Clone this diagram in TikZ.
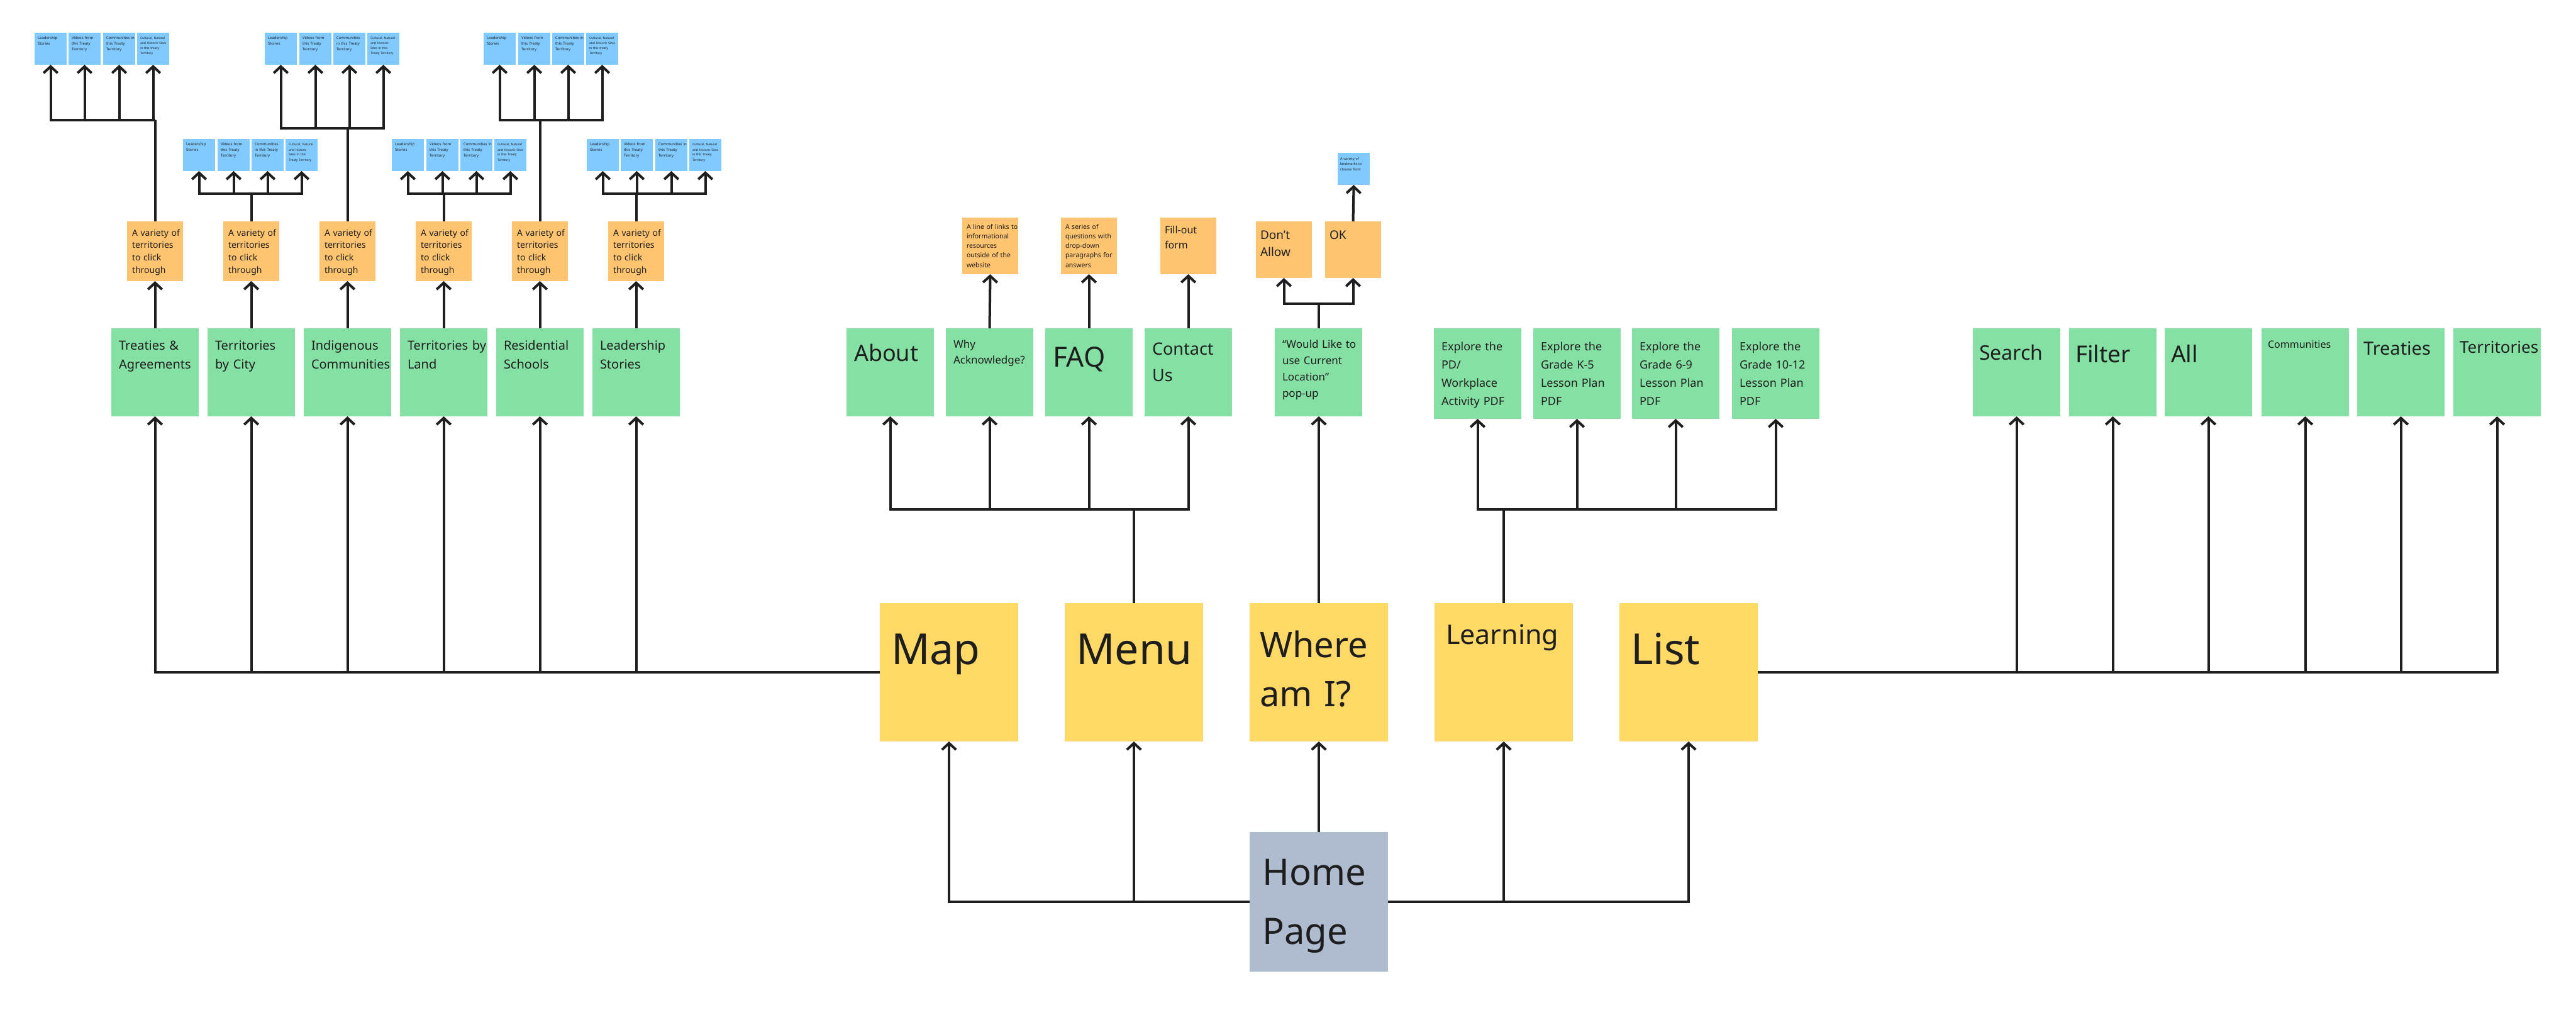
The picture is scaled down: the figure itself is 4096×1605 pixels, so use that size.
\documentclass[tikz,border=0pt]{standalone}
\usepackage{fontspec}
\setmainfont{Noto Sans}
\usetikzlibrary{arrows.meta}
\newdimen\pxu \pxu=0.25pt
\definecolor{gfill}{HTML}{85E0A3}
\definecolor{yfill}{HTML}{FFD966}
\definecolor{ofill}{HTML}{FFC470}
\definecolor{bfill}{HTML}{80CAFF}
\definecolor{hfill}{HTML}{AFBCCF}
\definecolor{ink}{HTML}{1E1E1E}
\newcommand\note[6]{\node[#1] (#2) at #3 {};\node[#4] (#2t) at ([shift={#5}]#2.north west) {#6};}
\begin{document}
\begin{tikzpicture}[x=0.25pt,y=-0.25pt,
  box/.style={inner sep=0pt, outer sep=0pt, anchor=north west, draw=none},
  gbox/.style={box, fill=gfill, minimum width=139\pxu, minimum height=140\pxu},
  lbox/.style={box, fill=gfill, minimum width=139\pxu, minimum height=144\pxu},
  obox/.style={box, fill=ofill, minimum width=89\pxu, minimum height=95\pxu},
  mbox/.style={box, fill=ofill, minimum width=89\pxu, minimum height=90\pxu},
  bbox/.style={box, fill=bfill, minimum width=51\pxu, minimum height=51\pxu},
  ybox/.style={box, fill=yfill, minimum width=220\pxu, minimum height=220\pxu},
  hbox/.style={box, fill=hfill, minimum width=220\pxu, minimum height=222\pxu},
  txt/.style={anchor=base west, inner sep=0pt, outer sep=0pt, text width=600\pxu, align=left, text=ink},
  fs/.style 2 args={txt, font=\fontsize{#1}{#2}\selectfont},
  ln/.style={draw=ink, line width=1pt},
  arr/.style={ln, -{Straight Barb[length=2.6pt,width=5.6pt]}}
]
\useasboundingbox (0,0) rectangle (4096,1605);
\fill[white] (0,0) rectangle (4096,1605);

% ---- blue notes row 1
\def\bA{Leadership\\Stories}
\def\bB{Videos from\\this Treaty\\Territory}
\note{bbox}{b11}{(55,52)}{fs={1.5}{2.2}}{(5,11)}{\bA}
\note{bbox}{b12}{(109,52)}{fs={1.5}{2.2}}{(5,11)}{\bB}
\note{bbox}{b13}{(164,52)}{fs={1.5}{2.2}}{(5,11)}{Communities in\\this Treaty\\Territory}
\note{bbox}{b14}{(218,52)}{fs={1.25}{2}}{(5,11)}{Cultural, Natural\\and Historic Sites\\in this treaty\\Territory}
\note{bbox}{b21}{(421,52)}{fs={1.5}{2.2}}{(5,11)}{\bA}
\note{bbox}{b22}{(476,52)}{fs={1.5}{2.2}}{(5,11)}{\bB}
\note{bbox}{b23}{(530,52)}{fs={1.5}{2.2}}{(5,11)}{Communities\\in this Treaty\\Territory}
\note{bbox}{b24}{(584,52)}{fs={1.25}{2}}{(5,11)}{Cultural, Natural\\and Historic\\Sites in this\\Treaty Territory}
\note{bbox}{b31}{(769,52)}{fs={1.5}{2.2}}{(5,11)}{\bA}
\note{bbox}{b32}{(824,52)}{fs={1.5}{2.2}}{(5,11)}{\bB}
\note{bbox}{b33}{(878,52)}{fs={1.5}{2.2}}{(5,11)}{Communities in\\this Treaty\\Territory}
\note{bbox}{b34}{(932,52)}{fs={1.25}{2}}{(5,11)}{Cultural, Natural\\and Historic Sites\\in this treaty\\Territory}
% ---- blue notes row 2
\note{bbox}{ra1}{(291,221)}{fs={1.5}{2.2}}{(5,11)}{\bA}
\note{bbox}{ra2}{(346,221)}{fs={1.5}{2.2}}{(5,11)}{\bB}
\note{bbox}{ra3}{(400,221)}{fs={1.5}{2.2}}{(5,11)}{Communities\\in this Treaty\\Territory}
\note{bbox}{ra4}{(454,221)}{fs={1.25}{2}}{(5,11)}{Cultural, Natural\\and Historic\\Sites in this\\Treaty Territory}
\note{bbox}{rb1}{(623,221)}{fs={1.5}{2.2}}{(5,11)}{\bA}
\note{bbox}{rb2}{(678,221)}{fs={1.5}{2.2}}{(5,11)}{\bB}
\note{bbox}{rb3}{(732,221)}{fs={1.5}{2.2}}{(5,11)}{Communities in\\this Treaty\\Territory}
\note{bbox}{rb4}{(786,221)}{fs={1.25}{2}}{(5,11)}{Cultural, Natural\\and Historic Sites\\in this Treaty\\Territory}
\note{bbox}{rc1}{(933,221)}{fs={1.5}{2.2}}{(5,11)}{\bA}
\note{bbox}{rc2}{(987,221)}{fs={1.5}{2.2}}{(5,11)}{\bB}
\note{bbox}{rc3}{(1042,221)}{fs={1.5}{2.2}}{(5,11)}{Communities in\\this Treaty\\Territory}
\note{bbox}{rc4}{(1096,221)}{fs={1.25}{2}}{(5,11)}{Cultural, Natural\\and Historic Sites\\in this Treaty\\Territory}

% ---- orange notes left
\def\oV{A variety of\\territories\\to click\\through}
\note{obox}{o1}{(202,352)}{fs={3.5}{4.925}}{(8,23)}{\oV}
\note{obox}{o2}{(355,352)}{fs={3.5}{4.925}}{(8,23)}{\oV}
\note{obox}{o3}{(508,352)}{fs={3.5}{4.925}}{(8,23)}{\oV}
\note{obox}{o4}{(661,352)}{fs={3.5}{4.925}}{(8,23)}{\oV}
\note{obox}{o5}{(814,352)}{fs={3.5}{4.925}}{(8,23)}{\oV}
\note{obox}{o6}{(967,352)}{fs={3.5}{4.925}}{(8,23)}{\oV}

% ---- green notes left
\note{gbox}{g1}{(177,522)}{fs={5}{7.5}}{(12,34)}{Treaties \&\\Agreements}
\note{gbox}{g2}{(330,522)}{fs={5}{7.5}}{(12,34)}{Territories\\by City}
\note{gbox}{g3}{(483,522)}{fs={5}{7.5}}{(12,34)}{Indigenous\\Communities}
\note{gbox}{g4}{(636,522)}{fs={5}{7.5}}{(12,34)}{Territories by\\Land}
\note{gbox}{g5}{(789,522)}{fs={5}{7.5}}{(12,34)}{Residential\\Schools}
\note{gbox}{g6}{(942,522)}{fs={5}{7.5}}{(12,34)}{Leadership\\Stories}

% ---- middle
\note{gbox}{about}{(1346,522)}{fs={9}{11}}{(12,52)}{About}
\note{gbox}{why}{(1504,522)}{fs={4.25}{6.25}}{(12,31)}{Why\\Acknowledge?}
\note{gbox}{faq}{(1662,522)}{fs={11}{13}}{(12,61)}{FAQ}
\note{gbox}{contact}{(1820,522)}{fs={6.75}{10.5}}{(12,42)}{Contact\\Us}
\note{gbox}{would}{(2027,522)}{fs={4.25}{6.5}}{(12,31)}{“Would Like to\\use Current\\Location”\\pop-up}
\note{mbox}{ow}{(1530,346)}{fs={2.625}{3.825}}{(7,18)}{A line of links to\\informational\\resources\\outside of the\\website}
\note{mbox}{of}{(1687,346)}{fs={2.625}{3.825}}{(7,18)}{A series of\\questions with\\drop-down\\paragraphs for\\answers}
\note{mbox}{ofo}{(1845,346)}{fs={4}{6}}{(7,25)}{Fill-out\\form}
\note{mbox}{odont}{(1997,352)}{fs={4.75}{6.9}}{(7,28)}{Don’t\\Allow}
\note{mbox}{ook}{(2107,352)}{fs={4.75}{6.9}}{(7,28)}{OK}
\note{bbox}{land}{(2127,243)}{fs={1.375}{2.125}}{(4,11.5)}{A variety of\\landmarks to\\choose from}

% ---- learning children
\note{lbox}{l1}{(2280,522)}{fs={4.5}{7.25}}{(12,35)}{Explore the\\PD/\\Workplace\\Activity PDF}
\note{lbox}{l2}{(2438,522)}{fs={4.5}{7.25}}{(12,35)}{Explore the\\Grade K-5\\Lesson Plan\\PDF}
\note{lbox}{l3}{(2595,522)}{fs={4.5}{7.25}}{(12,35)}{Explore the\\Grade 6-9\\Lesson Plan\\PDF}
\note{lbox}{l4}{(2754,522)}{fs={4.5}{7.25}}{(12,35)}{Explore the\\Grade 10-12\\Lesson Plan\\PDF}

% ---- list children
\note{gbox}{ks}{(3137,522)}{fs={8}{10}}{(10,50)}{Search}
\note{gbox}{kf}{(3290,522)}{fs={9.25}{11}}{(10,54)}{Filter}
\note{gbox}{ka}{(3442,522)}{fs={9.25}{11}}{(10,54)}{All}
\note{gbox}{kc}{(3596,522)}{fs={4}{5}}{(10,31)}{Communities}
\note{gbox}{kt}{(3748,522)}{fs={7.25}{9}}{(10,42)}{Treaties}
\note{gbox}{kr}{(3901,522)}{fs={6.5}{8}}{(10,39)}{Territories}

% ---- yellow
\note{ybox}{Map}{(1399,959)}{fs={17}{20}}{(18,97)}{Map}
\note{ybox}{Menu}{(1693,959)}{fs={17}{20}}{(18,97)}{Menu}
\note{ybox}{Where}{(1987,959)}{fs={14}{19.5}}{(16,86)}{Where\\am I?}
\note{ybox}{Learn}{(2281,959)}{fs={10.75}{13}}{(18,65)}{Learning}
\note{ybox}{List}{(2575,959)}{fs={17}{20}}{(18,97)}{List}
\note{hbox}{Home}{(1987,1323)}{fs={14.5}{23.5}}{(20,84)}{Home\\Page}

% ---- connectors
\draw[arr] (Home.west) -| (Map.south);
\draw[arr] (Home.west) -| (Menu.south);
\draw[arr] (Home.north) -- (Where.south);
\draw[arr] (Home.east) -| (Learn.south);
\draw[arr] (Home.east) -| (List.south);

\foreach \g in {g1,g2,g3,g4,g5,g6} \draw[arr] (Map.west) -| (\g.south);
\foreach \i in {1,...,6} \draw[arr] (g\i.north) -- (o\i.south);

\coordinate (mj) at (1803,810);
\draw[ln] (Menu.north) -- (mj);
\foreach \g in {about,why,faq,contact} \draw[arr] (mj) -| (\g.south);
\draw[arr] (why.north) -- (ow.south);
\draw[arr] (faq.north) -- (of.south);
\draw[arr] (contact.north) -- (ofo.south);

\draw[arr] (Where.north) -- (Where.north |- would.south);
\coordinate (wj) at (2096.5,483);
\draw[ln] (would.north) -- (wj);
\draw[arr] (wj) -| (odont.south);
\draw[arr] (wj) -| (ook.south);
\draw[arr] (ook.north) -- (land.south);

\coordinate (lj) at (2391,810);
\draw[ln] (Learn.north) -- (lj);
\foreach \g in {l1,l2,l3,l4} \draw[arr] (lj) -| (\g.south);

\foreach \g in {ks,kf,ka,kc,kt,kr} \draw[arr] (List.east) -| (\g.south);

\coordinate (c1) at (246.5,191);
\draw[ln] (o1.north) -- (c1);
\foreach \b in {b11,b12,b13,b14} \draw[arr] (c1) -| (\b.south);
\coordinate (c2) at (552.5,204);
\draw[ln] (o3.north) -- (c2);
\foreach \b in {b21,b22,b23,b24} \draw[arr] (c2) -| (\b.south);
\coordinate (c3) at (858.5,191);
\draw[ln] (o5.north) -- (c3);
\foreach \b in {b31,b32,b33,b34} \draw[arr] (c3) -| (\b.south);
\coordinate (ca) at (399.5,308);
\draw[ln] (o2.north) -- (ca);
\foreach \b in {ra1,ra2,ra3,ra4} \draw[arr] (ca) -| (\b.south);
\coordinate (cb) at (705.5,308);
\draw[ln] (o4.north) -- (cb);
\foreach \b in {rb1,rb2,rb3,rb4} \draw[arr] (cb) -| (\b.south);
\coordinate (cc) at (1011.5,308);
\draw[ln] (o6.north) -- (cc);
\foreach \b in {rc1,rc2,rc3,rc4} \draw[arr] (cc) -| (\b.south);
\end{tikzpicture}
\end{document}
